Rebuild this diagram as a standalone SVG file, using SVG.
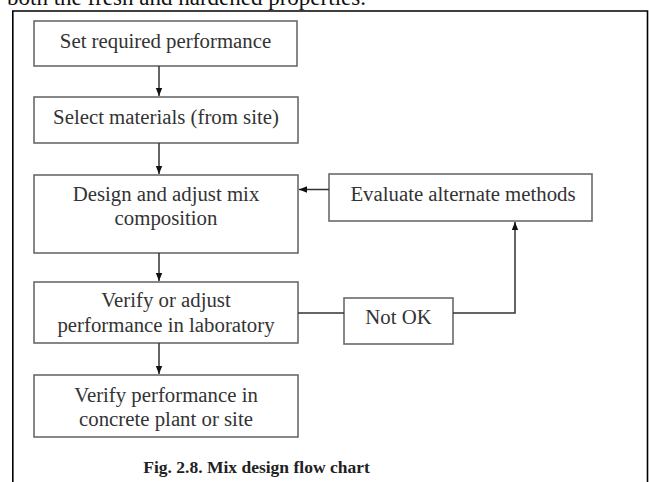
<svg xmlns="http://www.w3.org/2000/svg" width="649" height="482" viewBox="0 0 649 482">
<style>
.box{fill:#fff;stroke:#6a6a6a;stroke-width:1.6}
.t{font-family:"Liberation Serif","Times New Roman",serif;font-size:20.8px;fill:#333;text-anchor:middle}
.c{fill:none;stroke:#333;stroke-width:1.5}
.frame{fill:none;stroke:#000;stroke-width:1.6}
</style>
<defs>
<marker id="ah" markerUnits="userSpaceOnUse" markerWidth="10" markerHeight="8" refX="8" refY="4" orient="auto">
<path d="M0,0.8 L8,4 L0,7.2 z" fill="#111"/>
</marker>
</defs>
<rect width="649" height="482" fill="#fff"/>
<text x="7" y="5" font-family="Liberation Serif, Times New Roman, serif" font-size="23" fill="#111">both the fresh and hardened properties.</text>
<path class="frame" d="M12.8,482 V11 H647.5 V482"/>
<g id="n1"><rect class="box" x="34" y="21" width="263" height="45"/><text class="t" x="165.5" y="48">Set required performance</text></g>
<g id="n2"><rect class="box" x="34" y="97" width="264" height="46"/><text class="t" x="166" y="123.5">Select materials (from site)</text></g>
<g id="n3"><rect class="box" x="34" y="175" width="264" height="78"/><text class="t" x="166" y="200.5">Design and adjust mix</text><text class="t" x="166" y="224.5">composition</text></g>
<g id="n4"><rect class="box" x="329" y="174" width="263" height="47"/><text class="t" x="463" y="200.5">Evaluate alternate methods</text></g>
<g id="n5"><rect class="box" x="34" y="282" width="264" height="61"/><text class="t" x="166" y="307">Verify or adjust</text><text class="t" x="166" y="331.5">performance in laboratory</text></g>
<g id="n6"><rect class="box" x="344" y="298" width="109" height="46"/><text class="t" x="398.5" y="324">Not OK</text></g>
<g id="n7"><rect class="box" x="34" y="375" width="264" height="62"/><text class="t" x="166" y="401.5">Verify performance in</text><text class="t" x="166" y="426">concrete plant or site</text></g>
<g id="connectors">
<path class="c" d="M159,66 V96" marker-end="url(#ah)"/>
<path class="c" d="M159,143 V174" marker-end="url(#ah)"/>
<path class="c" d="M159,253 V281" marker-end="url(#ah)"/>
<path class="c" d="M159,343 V374" marker-end="url(#ah)"/>
<path class="c" d="M329,189.5 H299" marker-end="url(#ah)"/>
<path class="c" d="M298,313 H344"/>
<path class="c" d="M453,313 H515 V222" marker-end="url(#ah)"/>
</g>
<text x="256.5" y="473" font-family="Liberation Serif, Times New Roman, serif" font-size="17.5" font-weight="bold" fill="#222" text-anchor="middle">Fig. 2.8. Mix design flow chart</text>
</svg>
